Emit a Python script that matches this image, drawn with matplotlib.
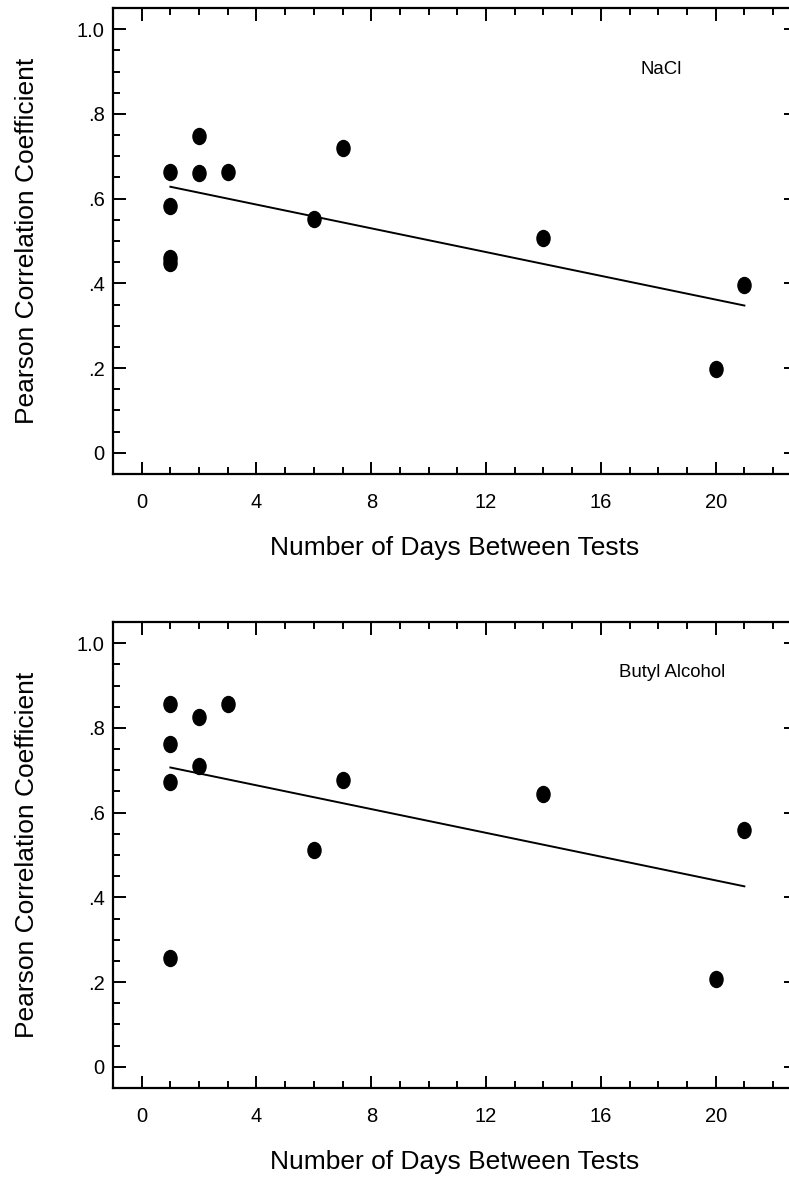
import numpy as np
import matplotlib
matplotlib.use('Agg')
import matplotlib.pyplot as plt
from matplotlib.markers import MarkerStyle
from matplotlib.transforms import Affine2D
from matplotlib.ticker import MultipleLocator, FixedFormatter, FixedLocator

plt.rcParams['font.family'] = ['Liberation Sans', 'DejaVu Sans']

# Days between tests and test-retest correlations
nacl_days = [1, 1, 1, 1, 2, 2, 3, 6, 7, 14, 20, 21]
nacl_r = [0.664, 0.582, 0.459, 0.447, 0.747, 0.660, 0.664, 0.553, 0.719, 0.508, 0.197, 0.397]

butyl_days = [1, 1, 1, 1, 2, 2, 3, 6, 7, 14, 20, 21]
butyl_r = [0.857, 0.761, 0.672, 0.256, 0.827, 0.709, 0.857, 0.513, 0.678, 0.645, 0.207, 0.558]

x_ticks = [0, 4, 8, 12, 16, 20]
y_ticks = [0, 0.2, 0.4, 0.6, 0.8, 1.0]
y_tick_labels = ['0', '.2', '.4', '.6', '.8', '1.0']

# label, x, y, text position, axes rect
panels = [
    ("NaCl", nacl_days, nacl_r, (18.1, 0.905), [0.1432, 0.5973, 0.8657, 0.3959]),
    ("Butyl Alcohol", butyl_days, butyl_r, (18.5, 0.932), [0.1432, 0.0756, 0.8657, 0.3959]),
]

fig = plt.figure(figsize=(7.89, 11.77), dpi=100)
dot = MarkerStyle('o', transform=Affine2D().scale(0.82, 1.0))

for label, days, r, txt_xy, rect in panels:
    ax = fig.add_axes(rect)
    days = np.array(days, dtype=float)
    r = np.array(r)

    ax.plot(days, r, linestyle='none', marker=dot, markersize=11.5,
            color='black', zorder=3)

    # least-squares fit line across the observed range
    slope, icpt = np.polyfit(days, r, 1)
    xs = np.array([days.min(), days.max()])
    ax.plot(xs, slope * xs + icpt, color='black', linewidth=1.4)

    ax.text(txt_xy[0], txt_xy[1], label, fontsize=13.4, ha='center', va='center')

    ax.set_xlim(-1.0, 22.8)
    ax.set_ylim(-0.05, 1.05)
    ax.xaxis.set_major_locator(FixedLocator(x_ticks))
    ax.xaxis.set_minor_locator(MultipleLocator(1))
    ax.yaxis.set_major_locator(FixedLocator(y_ticks))
    ax.yaxis.set_major_formatter(FixedFormatter(y_tick_labels))
    ax.yaxis.set_minor_locator(MultipleLocator(0.05))

    ax.tick_params(which='both', direction='in', top=True, right=True,
                   width=1.4, labelsize=14.5)
    ax.tick_params(which='major', length=9)
    ax.tick_params(which='minor', length=5)
    ax.tick_params(axis='x', which='major', pad=14)
    ax.tick_params(axis='y', which='major', pad=6)
    for s in ax.spines.values():
        s.set_linewidth(1.6)

    ax.set_xlabel('Number of Days Between Tests', fontsize=19, labelpad=17)
    ax.set_ylabel('Pearson Correlation Coefficient', fontsize=19, labelpad=27)

fig.savefig('out.png', dpi=100)
